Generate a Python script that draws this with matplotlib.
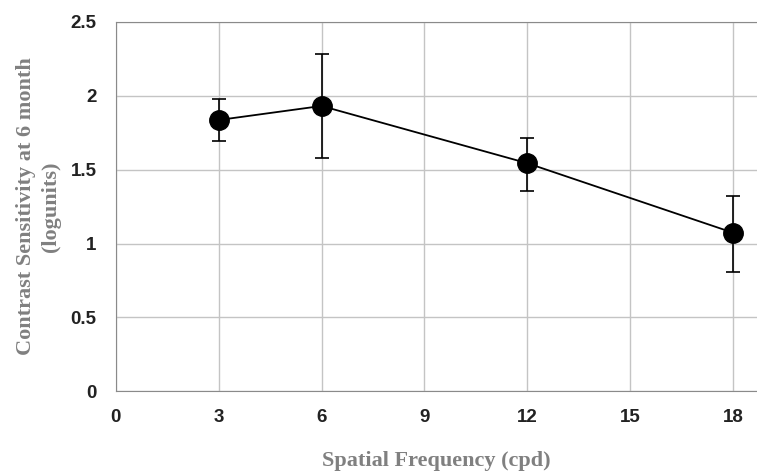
import matplotlib.pyplot as plt

# Contrast sensitivity vs spatial frequency
freq = [3, 6, 12, 18]
sensitivity = [1.835, 1.93, 1.543, 1.073]
err_low = [0.14, 0.35, 0.188, 0.263]
err_high = [0.14, 0.35, 0.172, 0.25]

xticks = [0, 3, 6, 9, 12, 15, 18]
yticks = [0, 0.5, 1, 1.5, 2, 2.5]

fig = plt.figure(figsize=(7.57, 4.71), dpi=100)
ax = fig.add_axes([0.153, 0.169, 0.847, 0.785])

ax.errorbar(freq, sensitivity, yerr=[err_low, err_high], color="black",
            marker="o", markersize=14, linewidth=1.3, elinewidth=1.2,
            capsize=5, capthick=1.2, zorder=3)

ax.set_xlim(0, 18.7)
ax.set_ylim(0, 2.5)
ax.set_xticks(xticks)
ax.set_yticks(yticks)
ax.set_yticklabels(["0", "0.5", "1", "1.5", "2", "2.5"])
ax.grid(True, color="#c4c4c4", linewidth=1)
ax.set_axisbelow(True)

for side in ["left", "bottom", "top"]:
    ax.spines[side].set_color("#8a8a8a")
ax.spines["right"].set_visible(False)

ax.tick_params(length=0, labelsize=13.5, colors="#222222")
ax.tick_params(axis="y", pad=14)
ax.tick_params(axis="x", pad=13)
for lbl in ax.get_xticklabels() + ax.get_yticklabels():
    lbl.set_fontfamily("Liberation Sans")
    lbl.set_fontweight("bold")

ax.set_xlabel("Spatial Frequency (cpd)", family="Liberation Serif",
              fontweight="bold", fontsize=16, color="#808080", labelpad=18)
ax.set_ylabel("Contrast Sensitivity at 6 month\n(logunits)", family="Liberation Serif",
              fontweight="bold", fontsize=16, color="#808080", labelpad=7,
              linespacing=1.3)

fig.savefig("out.png", dpi=100)
